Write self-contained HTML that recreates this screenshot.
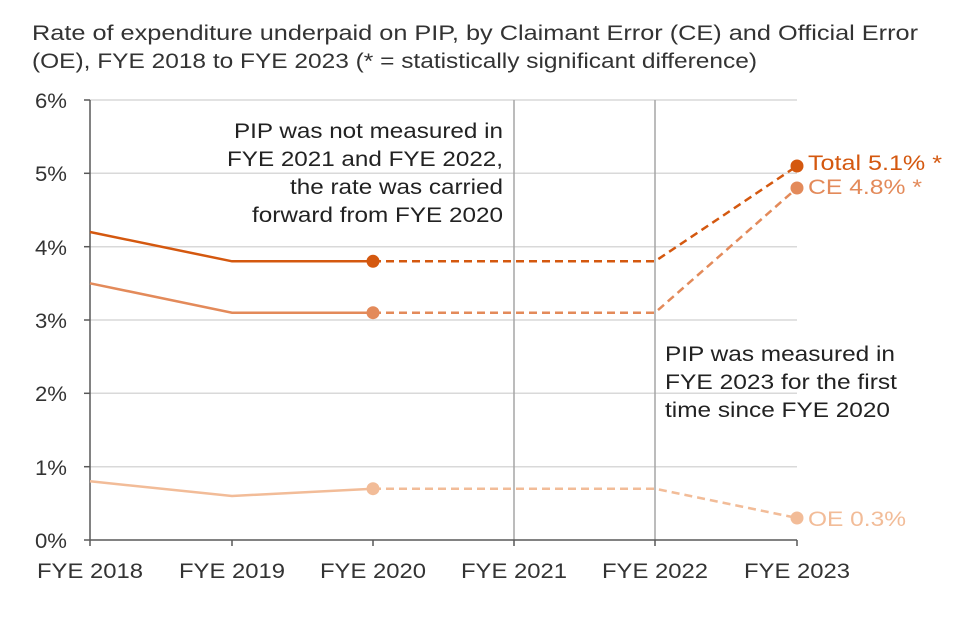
<!DOCTYPE html>
<html><head><meta charset="utf-8"><style>
html,body{margin:0;padding:0;background:#fff;}
svg{display:block;font-family:"Liberation Sans",Arial,sans-serif;}
</style></head><body>
<svg width="960" height="640" viewBox="0 0 960 640">
<text x="32" y="40" font-size="21" fill="#333" textLength="886" lengthAdjust="spacingAndGlyphs">Rate of expenditure underpaid on PIP, by Claimant Error (CE) and Official Error</text>
<text x="32" y="68" font-size="21" fill="#333" textLength="725" lengthAdjust="spacingAndGlyphs">(OE), FYE 2018 to FYE 2023 (* = statistically significant difference)</text>
<g stroke="#d9d9d9" stroke-width="1.5">
<line x1="90" y1="100" x2="797" y2="100"/>
<line x1="90" y1="173.3" x2="797" y2="173.3"/>
<line x1="90" y1="246.7" x2="797" y2="246.7"/>
<line x1="90" y1="320" x2="797" y2="320"/>
<line x1="90" y1="393.3" x2="797" y2="393.3"/>
<line x1="90" y1="466.7" x2="797" y2="466.7"/>
</g>
<g stroke="#a6a6a6" stroke-width="1.5">
<line x1="514" y1="100" x2="514" y2="540"/>
<line x1="655" y1="100" x2="655" y2="540"/>
</g>
<g stroke="#595959" stroke-width="1.5">
<line x1="90" y1="100" x2="90" y2="540"/>
<line x1="90" y1="540" x2="797" y2="540"/>
<line x1="84" y1="100" x2="90" y2="100"/><line x1="84" y1="173.3" x2="90" y2="173.3"/>
<line x1="84" y1="246.7" x2="90" y2="246.7"/><line x1="84" y1="320" x2="90" y2="320"/>
<line x1="84" y1="393.3" x2="90" y2="393.3"/><line x1="84" y1="466.7" x2="90" y2="466.7"/>
<line x1="84" y1="540" x2="90" y2="540"/>
<line x1="90" y1="540" x2="90" y2="546"/><line x1="232" y1="540" x2="232" y2="546"/>
<line x1="373" y1="540" x2="373" y2="546"/><line x1="514" y1="540" x2="514" y2="546"/>
<line x1="655" y1="540" x2="655" y2="546"/><line x1="797" y1="540" x2="797" y2="546"/>
</g>
<g font-size="21" fill="#333">
<text x="35" y="108" textLength="32" lengthAdjust="spacingAndGlyphs">6%</text><text x="35" y="181" textLength="32" lengthAdjust="spacingAndGlyphs">5%</text><text x="35" y="255" textLength="32" lengthAdjust="spacingAndGlyphs">4%</text>
<text x="35" y="328" textLength="32" lengthAdjust="spacingAndGlyphs">3%</text><text x="35" y="401" textLength="32" lengthAdjust="spacingAndGlyphs">2%</text><text x="35" y="475" textLength="32" lengthAdjust="spacingAndGlyphs">1%</text><text x="35" y="548" textLength="32" lengthAdjust="spacingAndGlyphs">0%</text>
</g>
<g font-size="21" fill="#333">
<text x="37" y="578" textLength="106" lengthAdjust="spacingAndGlyphs">FYE 2018</text>
<text x="179" y="578" textLength="106" lengthAdjust="spacingAndGlyphs">FYE 2019</text>
<text x="320" y="578" textLength="106" lengthAdjust="spacingAndGlyphs">FYE 2020</text>
<text x="461" y="578" textLength="106" lengthAdjust="spacingAndGlyphs">FYE 2021</text>
<text x="602" y="578" textLength="106" lengthAdjust="spacingAndGlyphs">FYE 2022</text>
<text x="744" y="578" textLength="106" lengthAdjust="spacingAndGlyphs">FYE 2023</text>
</g>
<g fill="none" stroke-width="2.5">
<polyline points="90,232 232,261.3 373,261.3" stroke="#d4580f"/>
<polyline points="373,261.3 655,261.3 797,166" stroke="#d4580f" stroke-dasharray="8,5"/>
<polyline points="90,283.3 232,312.7 373,312.7" stroke="#e38a5a"/>
<polyline points="373,312.7 655,312.7 797,188" stroke="#e38a5a" stroke-dasharray="8,5"/>
<polyline points="90,481.3 232,496 373,488.7" stroke="#f2bc98"/>
<polyline points="373,488.7 655,488.7 797,518" stroke="#f2bc98" stroke-dasharray="8,5"/>
</g>
<circle cx="373" cy="261.3" r="6.5" fill="#d4580f"/><circle cx="797" cy="166" r="6.5" fill="#d4580f"/>
<circle cx="373" cy="312.7" r="6.5" fill="#e38a5a"/><circle cx="797" cy="188" r="6.5" fill="#e38a5a"/>
<circle cx="373" cy="488.7" r="6.5" fill="#f2bc98"/><circle cx="797" cy="518" r="6.5" fill="#f2bc98"/>
<text x="808" y="170" font-size="21" fill="#d4580f" textLength="134" lengthAdjust="spacingAndGlyphs">Total 5.1% *</text>
<text x="808" y="194" font-size="21" fill="#e38a5a" textLength="114" lengthAdjust="spacingAndGlyphs">CE 4.8% *</text>
<text x="808" y="526" font-size="21" fill="#f2bc98" textLength="98" lengthAdjust="spacingAndGlyphs">OE 0.3%</text>
<g font-size="21" fill="#222">
<text x="234" y="138" textLength="269" lengthAdjust="spacingAndGlyphs">PIP was not measured in</text>
<text x="227" y="166" textLength="276" lengthAdjust="spacingAndGlyphs">FYE 2021 and FYE 2022,</text>
<text x="290" y="194" textLength="213" lengthAdjust="spacingAndGlyphs">the rate was carried</text>
<text x="252" y="222" textLength="251" lengthAdjust="spacingAndGlyphs">forward from FYE 2020</text>
</g>
<g font-size="21" fill="#222">
<text x="665" y="361" textLength="230" lengthAdjust="spacingAndGlyphs">PIP was measured in</text>
<text x="665" y="389" textLength="232" lengthAdjust="spacingAndGlyphs">FYE 2023 for the first</text>
<text x="665" y="417" textLength="225" lengthAdjust="spacingAndGlyphs">time since FYE 2020</text>
</g>
</svg>
</body></html>
